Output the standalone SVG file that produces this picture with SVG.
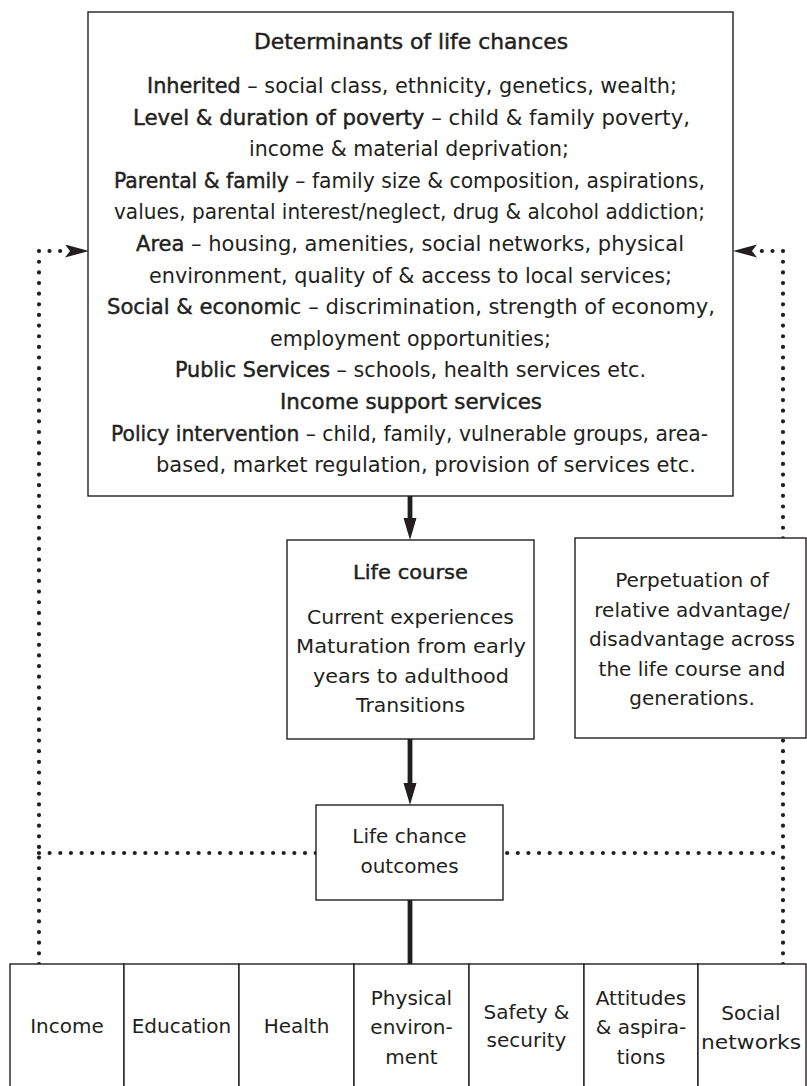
<svg xmlns="http://www.w3.org/2000/svg" width="807" height="1086" viewBox="0 0 807 1086">
<style>
text{font-family:"DejaVu Sans","Liberation Sans",sans-serif;font-size:20px;fill:#231f20}
.t{font-size:21px}
.b{stroke:#231f20;stroke-width:0.45}
.c{text-anchor:middle}
.box{fill:#fff;stroke:#231f20;stroke-width:1.4}
.thick{stroke:#231f20;stroke-width:4.8;fill:none}
.dot{stroke:#231f20;stroke-width:4.2;stroke-linecap:round;stroke-dasharray:0 10.64;fill:none}
</style>
<defs>
<marker id="ah" markerUnits="userSpaceOnUse" markerWidth="24" markerHeight="14" refX="0" refY="6.5" orient="auto"><path d="M0,0 L22,6.5 L0,13 z" fill="#231f20"/></marker>
<marker id="dh" markerUnits="userSpaceOnUse" markerWidth="26" markerHeight="14" refX="0" refY="6.5" orient="auto"><path d="M0,0 L24,6.5 L0,13 L5,6.5 z" fill="#231f20"/></marker>
</defs>
<g id="connectors">
<path class="dot" d="M39,964 V251 H65" marker-end="url(#dh)"/>
<path class="dot" d="M783,964 V251 H757" marker-end="url(#dh)"/>
<path class="dot" d="M39,853 H783"/>
<line class="thick" x1="410" y1="496" x2="410" y2="518" marker-end="url(#ah)"/>
<line class="thick" x1="410" y1="739" x2="410" y2="783" marker-end="url(#ah)"/>
<line class="thick" x1="410" y1="900" x2="410" y2="964"/>
</g>
<g id="determinants">
<rect class="box" x="88" y="12" width="645" height="484"/>
<text class="t b" x="254" y="49" textLength="314" lengthAdjust="spacingAndGlyphs">Determinants of life chances</text>
<text class="t" x="147" y="93" textLength="530" lengthAdjust="spacingAndGlyphs"><tspan class="b">Inherited</tspan> – social class, ethnicity, genetics, wealth;</text>
<text class="t" x="133" y="125" textLength="557" lengthAdjust="spacingAndGlyphs"><tspan class="b">Level &amp; duration of poverty</tspan> – child &amp; family poverty,</text>
<text class="t" x="249" y="156" textLength="320" lengthAdjust="spacingAndGlyphs">income &amp; material deprivation;</text>
<text class="t" x="114" y="188" textLength="591" lengthAdjust="spacingAndGlyphs"><tspan class="b">Parental &amp; family</tspan> – family size &amp; composition, aspirations,</text>
<text class="t" x="114" y="219" textLength="591" lengthAdjust="spacingAndGlyphs">values, parental interest/neglect, drug &amp; alcohol addiction;</text>
<text class="t" x="136" y="251" textLength="548" lengthAdjust="spacingAndGlyphs"><tspan class="b">Area</tspan> – housing, amenities, social networks, physical</text>
<text class="t" x="149" y="283" textLength="523" lengthAdjust="spacingAndGlyphs">environment, quality of &amp; access to local services;</text>
<text class="t" x="107" y="314" textLength="608" lengthAdjust="spacingAndGlyphs"><tspan class="b">Social &amp; economi</tspan>c – discrimination, strength of economy,</text>
<text class="t" x="270" y="346" textLength="281" lengthAdjust="spacingAndGlyphs">employment opportunities;</text>
<text class="t" x="175" y="377" textLength="471" lengthAdjust="spacingAndGlyphs"><tspan class="b">Public Services</tspan> – schools, health services etc.</text>
<text class="t b" x="280" y="409" textLength="262" lengthAdjust="spacingAndGlyphs">Income support services</text>
<text class="t" x="111" y="441" textLength="597" lengthAdjust="spacingAndGlyphs"><tspan class="b">Policy intervention</tspan> – child, family, vulnerable groups, area-</text>
<text class="t" x="156" y="472" textLength="540" lengthAdjust="spacingAndGlyphs">based, market regulation, provision of services etc.</text>
</g>
<g id="life-course">
<rect class="box" x="287" y="540" width="247" height="199"/>
<text class="b" x="353" y="579" textLength="115" lengthAdjust="spacingAndGlyphs">Life course</text>
<text x="307" y="624" textLength="207" lengthAdjust="spacingAndGlyphs">Current experiences</text>
<text x="296" y="653" textLength="230" lengthAdjust="spacingAndGlyphs">Maturation from early</text>
<text x="313" y="683" textLength="196" lengthAdjust="spacingAndGlyphs">years to adulthood</text>
<text x="356" y="712" textLength="109" lengthAdjust="spacingAndGlyphs">Transitions</text>
</g>
<g id="perpetuation">
<rect class="box" x="575" y="538" width="231" height="200"/>
<text class="c" x="692" y="587">Perpetuation of</text>
<text class="c" x="692" y="617">relative advantage/</text>
<text class="c" x="692" y="646">disadvantage across</text>
<text class="c" x="692" y="676">the life course and</text>
<text class="c" x="692" y="705">generations.</text>
</g>
<g id="outcomes">
<rect class="box" x="316" y="805" width="187" height="95"/>
<text class="c" x="409.5" y="843">Life chance</text>
<text class="c" x="409.5" y="873">outcomes</text>
</g>
<g id="income">
<rect class="box" x="10" y="964" width="114" height="130"/>
<text class="c" x="67" y="1033">Income</text>
</g>
<g id="education">
<rect class="box" x="124" y="964" width="115" height="130"/>
<text class="c" x="181.5" y="1033">Education</text>
</g>
<g id="health">
<rect class="box" x="239" y="964" width="115" height="130"/>
<text class="c" x="296.5" y="1033">Health</text>
</g>
<g id="physical-environment">
<rect class="box" x="354" y="964" width="115" height="130"/>
<text class="c" x="411.5" y="1005">Physical</text>
<text class="c" x="411.5" y="1034">environ-</text>
<text class="c" x="411.5" y="1064">ment</text>
</g>
<g id="safety">
<rect class="box" x="469" y="964" width="115" height="130"/>
<text class="c" x="526.5" y="1019">Safety &amp;</text>
<text class="c" x="526.5" y="1047">security</text>
</g>
<g id="attitudes">
<rect class="box" x="584" y="964" width="114" height="130"/>
<text class="c" x="641" y="1005">Attitudes</text>
<text class="c" x="641" y="1034">&amp; aspira-</text>
<text class="c" x="641" y="1064">tions</text>
</g>
<g id="social-networks">
<rect class="box" x="698" y="964" width="108" height="130"/>
<text class="c" x="751" y="1020">Social</text>
<text class="c" x="751" y="1049" textLength="100" lengthAdjust="spacingAndGlyphs">networks</text>
</g>
</svg>
